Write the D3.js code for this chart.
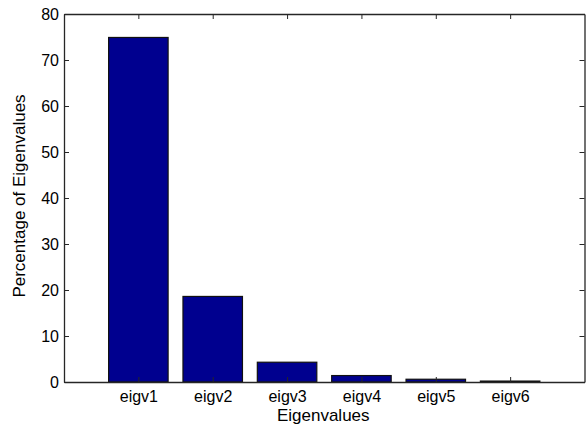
<!DOCTYPE html>
<html>
<head>
<meta charset="utf-8">
<script src="https://cdn.jsdelivr.net/npm/d3@7"></script>
<style>
  html, body { margin: 0; padding: 0; background: #fff; }
  svg { display: block; font-family: "Liberation Sans", Arial, Helvetica, sans-serif; }
</style>
</head>
<body>
<svg id="chart" width="586" height="424"></svg>
<script>
// Share of total variance carried by each eigenvalue (percent)
const categories = ["eigv1", "eigv2", "eigv3", "eigv4", "eigv5", "eigv6"];
const percentages = [74.9, 18.6, 4.3, 1.4, 0.6, 0.2];
const yTicks = [0, 10, 20, 30, 40, 50, 60, 70, 80];

const W = 586, H = 424;
const margin = { top: 14, right: 1.5, bottom: 42, left: 64 };
const x0 = margin.left, x1 = W - margin.right;
const y0 = H - margin.bottom, y1 = margin.top;

const svg = d3.select("#chart");

// Numeric category positions 1..n on a [0, n+1] domain, bars 0.8 wide
const x = d3.scaleLinear().domain([0, categories.length + 1]).range([x0, x1]);
const y = d3.scaleLinear().domain([0, 80]).range([y0, y1]);
const barW = (x(1) - x(0)) * 0.8;

// Bars
svg.append("g")
  .selectAll("rect")
  .data(percentages)
  .join("rect")
  .attr("x", (d, i) => x(i + 1) - barW / 2)
  .attr("width", barW)
  .attr("y", d => y(d))
  .attr("height", d => y(0) - y(d))
  .attr("fill", "#00008f")
  .attr("stroke", "#111")
  .attr("stroke-width", 1.2);

const axisColor = "#262626";
const tickLen = 5;
const idx = categories.map((c, i) => i + 1);

// Bottom axis with inward ticks
const axBottom = svg.append("g").attr("transform", `translate(0,${y0})`)
  .call(d3.axisBottom(x).tickValues(idx).tickFormat((d) => categories[d - 1])
    .tickSizeInner(-tickLen).tickSizeOuter(0).tickPadding(8.5));
// Top axis, ticks only
const axTop = svg.append("g").attr("transform", `translate(0,${y1})`)
  .call(d3.axisTop(x).tickValues(idx).tickFormat("")
    .tickSizeInner(-tickLen).tickSizeOuter(0));
// Left axis
const axLeft = svg.append("g").attr("transform", `translate(${x0},0)`)
  .call(d3.axisLeft(y).tickValues(yTicks).tickFormat(d3.format("d"))
    .tickSizeInner(-tickLen).tickSizeOuter(0).tickPadding(5));
// Right axis, ticks only
const axRight = svg.append("g").attr("transform", `translate(${x1},0)`)
  .call(d3.axisRight(y).tickValues(yTicks).tickFormat("")
    .tickSizeInner(-tickLen).tickSizeOuter(0));

[axBottom, axTop, axLeft, axRight].forEach(g => {
  g.select(".domain").attr("stroke", axisColor).attr("stroke-width", 1.3);
  g.selectAll(".tick line").attr("stroke", axisColor).attr("stroke-width", 1);
  g.selectAll(".tick text").attr("fill", "#000").attr("font-size", 16)
    .attr("font-family", "'Liberation Sans', Arial, sans-serif");
});

// Axis titles
svg.append("text")
  .attr("x", (x0 + x1) / 2 - 1)
  .attr("y", 420.5)
  .attr("text-anchor", "middle")
  .attr("font-size", 17)
  .attr("fill", "#000")
  .text("Eigenvalues");

svg.append("text")
  .attr("transform", `translate(25,${(y0 + y1) / 2 - 2}) rotate(-90)`)
  .attr("text-anchor", "middle")
  .attr("font-size", 17)
  .attr("fill", "#000")
  .text("Percentage of Eigenvalues");
</script>
</body>
</html>
